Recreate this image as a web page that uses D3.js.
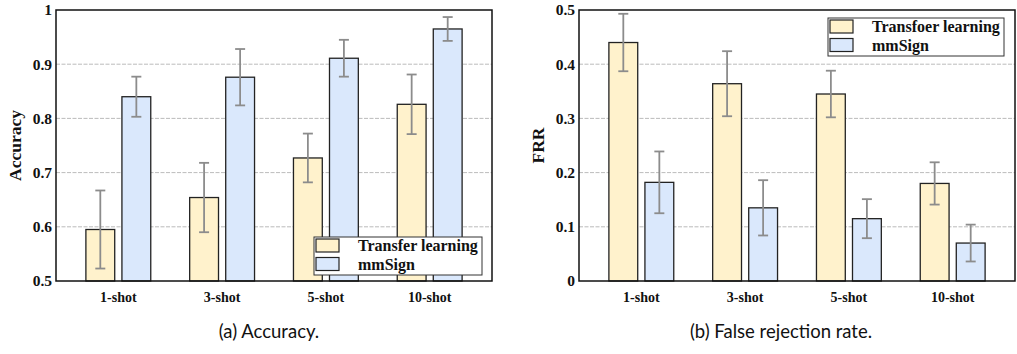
<!DOCTYPE html>
<html>
<head>
<meta charset="utf-8">
<script src="https://cdn.jsdelivr.net/npm/d3@7"></script>
<style>
  body { margin: 0; background: #fff; }
  svg { display: block; }
  .tick-label { font-family: "Liberation Serif", "Times New Roman", serif; font-weight: bold; font-size: 15.5px; fill: #111; }
  .axis-title { font-family: "Liberation Serif", "Times New Roman", serif; font-weight: bold; font-size: 17.5px; fill: #111; }
  .legend-text { font-family: "Liberation Serif", "Times New Roman", serif; font-weight: bold; font-size: 16px; fill: #111; }
  .caption { font-family: "Lato", "Open Sans", sans-serif; font-size: 18.5px; fill: #111; }
</style>
</head>
<body>
<div id="chart"></div>
<script>
const categories = ['1-shot', '3-shot', '5-shot', '10-shot'];
const seriesKeys = ['tl', 'mm'];

// (a) accuracy
const accTransfer = [0.595, 0.654, 0.727, 0.826];
const accTransferErr = [0.072, 0.064, 0.045, 0.055];
const accMmSign = [0.840, 0.876, 0.911, 0.965];
const accMmSignErr = [0.037, 0.052, 0.034, 0.022];
const accTicks = [0.5, 0.6, 0.7, 0.8, 0.9, 1];

// (b) false rejection rate
const frrTransfer = [0.440, 0.364, 0.345, 0.180];
const frrTransferErr = [0.053, 0.060, 0.043, 0.039];
const frrMmSign = [0.182, 0.135, 0.115, 0.070];
const frrMmSignErr = [0.057, 0.051, 0.036, 0.034];
const frrTicks = [0, 0.1, 0.2, 0.3, 0.4, 0.5];

const colors = { tl: '#fff2cc', mm: '#dae8fc' };

const width = 1017;
const height = 354;

const svg = d3.select('#chart')
  .append('svg')
  .attr('width', width)
  .attr('height', height);

function drawPanel(opts) {
  const { left, right, top, bottom } = opts;
  const g = svg.append('g');

  const x = d3.scaleBand()
    .domain(categories)
    .range([left, right])
    .paddingInner(0.375)
    .paddingOuter(0.288);

  const xSub = d3.scaleBand()
    .domain(seriesKeys)
    .range([0, x.bandwidth()])
    .paddingInner(0.2);

  const y = d3.scaleLinear()
    .domain(opts.domain)
    .range([bottom, top]);

  // grid
  g.append('g')
    .selectAll('line')
    .data(opts.ticks.filter(t => t !== opts.domain[0] && t !== opts.domain[1]))
    .join('line')
    .attr('x1', left)
    .attr('x2', right)
    .attr('y1', d => y(d))
    .attr('y2', d => y(d))
    .attr('stroke', '#aaa')
    .attr('stroke-width', 0.8)
    .attr('stroke-dasharray', '4,1.5');

  const rows = categories.map((c, i) => ({
    cat: c,
    values: [
      { key: 'tl', value: opts.tl[i], err: opts.tlErr[i] },
      { key: 'mm', value: opts.mm[i], err: opts.mmErr[i] }
    ]
  }));

  const groups = g.append('g')
    .selectAll('g')
    .data(rows)
    .join('g')
    .attr('transform', d => `translate(${x(d.cat)},0)`);

  groups.selectAll('rect')
    .data(d => d.values)
    .join('rect')
    .attr('x', d => xSub(d.key))
    .attr('y', d => y(d.value))
    .attr('width', xSub.bandwidth())
    .attr('height', d => y(opts.domain[0]) - y(d.value))
    .attr('fill', d => colors[d.key])
    .attr('stroke', '#222')
    .attr('stroke-width', 1.3);

  const errG = groups.selectAll('g.err')
    .data(d => d.values)
    .join('g')
    .attr('class', 'err')
    .attr('transform', d => `translate(${xSub(d.key) + xSub.bandwidth() / 2},0)`)
    .attr('stroke', '#8c8c8c')
    .attr('stroke-width', 1.8);

  errG.append('line')
    .attr('y1', d => y(d.value - d.err))
    .attr('y2', d => y(d.value + d.err));
  errG.append('line')
    .attr('x1', -5).attr('x2', 5)
    .attr('y1', d => y(d.value + d.err))
    .attr('y2', d => y(d.value + d.err));
  errG.append('line')
    .attr('x1', -5).attr('x2', 5)
    .attr('y1', d => y(d.value - d.err))
    .attr('y2', d => y(d.value - d.err));

  // frame
  g.append('rect')
    .attr('x', left)
    .attr('y', top)
    .attr('width', right - left)
    .attr('height', bottom - top)
    .attr('fill', 'none')
    .attr('stroke', '#111')
    .attr('stroke-width', 1.5);

  // y tick labels
  g.append('g')
    .selectAll('text')
    .data(opts.ticks)
    .join('text')
    .attr('class', 'tick-label')
    .attr('x', left - 4)
    .attr('y', d => y(d))
    .attr('dy', '0.35em')
    .attr('text-anchor', 'end')
    .text(d => d3.format('')(d));

  // x tick labels
  g.append('g')
    .selectAll('text')
    .data(categories)
    .join('text')
    .attr('class', 'tick-label')
    .attr('x', d => x(d) + x.bandwidth() / 2)
    .attr('y', bottom + 21)
    .attr('text-anchor', 'middle')
    .style('font-size', '14px')
    .text(d => d);

  g.append('text')
    .attr('class', 'axis-title')
    .attr('transform', `translate(${opts.titleX},${(top + bottom) / 2}) rotate(-90)`)
    .attr('text-anchor', 'middle')
    .attr('dy', '0.35em')
    .text(opts.yTitle);

  // legend
  const lg = g.append('g')
    .attr('transform', `translate(${opts.legend.x},${opts.legend.y})`);
  lg.append('rect')
    .attr('width', opts.legend.w)
    .attr('height', 38)
    .attr('fill', '#fff')
    .attr('stroke', '#333')
    .attr('stroke-width', 1);
  const items = lg.selectAll('g')
    .data(seriesKeys)
    .join('g')
    .attr('transform', (d, i) => `translate(2,${2 + i * 18.5})`);
  items.append('rect')
    .attr('width', 23)
    .attr('height', 13)
    .attr('fill', d => colors[d])
    .attr('stroke', '#222')
    .attr('stroke-width', 1.2);
  items.append('text')
    .attr('class', 'legend-text')
    .attr('x', 42)
    .attr('y', 12)
    .text((d, i) => opts.legendLabels[i]);

  svg.append('text')
    .attr('class', 'caption')
    .attr('x', opts.captionX)
    .attr('y', 338)
    .attr('text-anchor', 'middle')
    .text(opts.caption);
}

drawPanel({
  left: 56, right: 492, top: 10, bottom: 281,
  domain: [0.5, 1], ticks: accTicks,
  tl: accTransfer, tlErr: accTransferErr,
  mm: accMmSign, mmErr: accMmSignErr,
  yTitle: 'Accuracy', titleX: 15,
  legend: { x: 314, y: 237, w: 168 },
  legendLabels: ['Transfer learning', 'mmSign'],
  caption: '(a) Accuracy.', captionX: 269
});

drawPanel({
  left: 579, right: 1015, top: 10, bottom: 281,
  domain: [0, 0.5], ticks: frrTicks,
  tl: frrTransfer, tlErr: frrTransferErr,
  mm: frrMmSign, mmErr: frrMmSignErr,
  yTitle: 'FRR', titleX: 538,
  legend: { x: 828, y: 18, w: 176 },
  legendLabels: ['Transfoer learning', 'mmSign'],
  caption: '(b) False rejection rate.', captionX: 781
});
</script>
</body>
</html>
